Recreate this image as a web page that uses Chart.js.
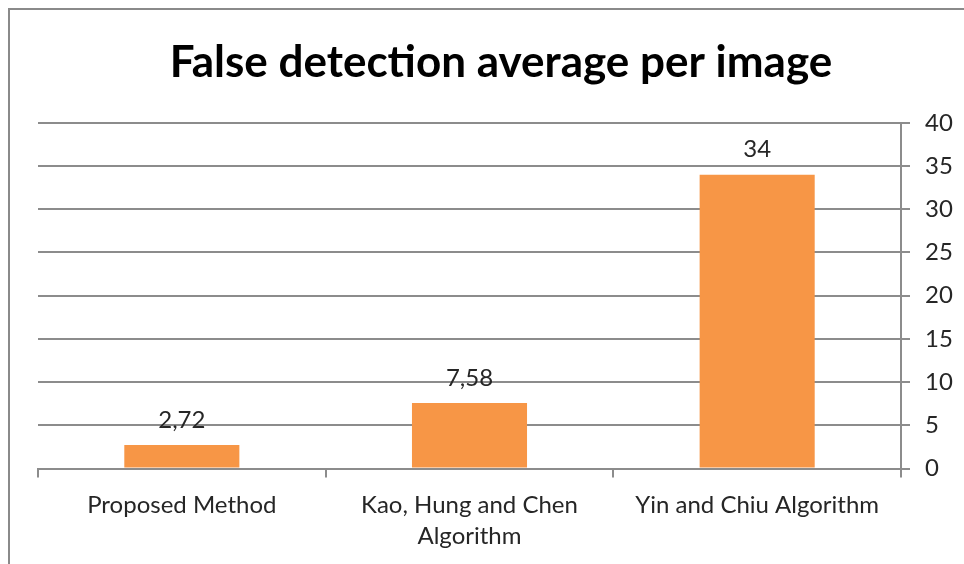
<!DOCTYPE html>
<html>
<head>
<meta charset="utf-8">
<script src="https://cdn.jsdelivr.net/npm/chart.js@4/dist/chart.umd.min.js"></script>
<style>
  html, body { margin: 0; padding: 0; background: #fff; }
  #wrap { width: 964px; height: 564px; position: relative; }
</style>
</head>
<body>
<div id="wrap"><canvas id="c" width="964" height="564"></canvas></div>
<script>
// Chart data
const chartTitle = 'False detection average per image';
const categories = [
  'Proposed Method',
  ['Kao, Hung and Chen', 'Algorithm'],
  'Yin and Chiu Algorithm'
];
const falseDetections = [2.72, 7.58, 34];
const yTicks = [0, 5, 10, 15, 20, 25, 30, 35, 40];

const FONT = 'Lato, "Open Sans", sans-serif';
const GRID = '#8c8c8c';
const BAR = '#F79646';
const TEXT = '#262626';

// Value labels above each bar, with a decimal comma
const valueLabels = {
  id: 'valueLabels',
  afterDatasetsDraw(chart) {
    const ctx = chart.ctx;
    const meta = chart.getDatasetMeta(0);
    ctx.save();
    ctx.font = '24px ' + FONT;
    ctx.fillStyle = TEXT;
    ctx.textAlign = 'center';
    ctx.textBaseline = 'middle';
    meta.data.forEach((bar, i) => {
      const txt = String(falseDetections[i]).replace('.', ',');
      ctx.fillText(txt, bar.x, bar.y - 25);
    });
    ctx.restore();
  }
};

// Gray frame on the left and top edges
const frame = {
  id: 'frame',
  afterDraw(chart) {
    const ctx = chart.ctx;
    ctx.save();
    ctx.strokeStyle = '#8a8a8a';
    ctx.lineWidth = 2;
    ctx.beginPath();
    ctx.moveTo(9, 564);
    ctx.lineTo(9, 9);
    ctx.lineTo(964, 9);
    ctx.stroke();
    ctx.restore();
  }
};

new Chart(document.getElementById('c'), {
  type: 'bar',
  data: {
    labels: categories,
    datasets: [{
      data: falseDetections,
      backgroundColor: BAR,
      borderWidth: 0,
      categoryPercentage: 0.4,
      barPercentage: 1.0
    }]
  },
  plugins: [valueLabels, frame],
  options: {
    responsive: false,
    animation: false,
    layout: { padding: { left: 38, right: 0, top: 36, bottom: 0 } },
    plugins: {
      legend: { display: false },
      tooltip: { enabled: false },
      title: {
        display: true,
        text: chartTitle,
        color: '#000',
        font: { family: FONT, size: 44, weight: 'bold' },
        padding: { top: 0, bottom: 34 }
      }
    },
    scales: {
      x: {
        grid: {
          offset: true,
          drawOnChartArea: false,
          drawTicks: true,
          tickLength: 9,
          color: GRID,
          lineWidth: 2
        },
        border: { display: true, color: GRID, width: 2 },
        ticks: {
          color: TEXT,
          font: { family: FONT, size: 24, lineHeight: 1.3 },
          padding: 12,
          maxRotation: 0,
          autoSkip: false
        }
      },
      y: {
        position: 'right',
        min: 0,
        max: 40,
        afterBuildTicks(axis) {
          axis.ticks = yTicks.map(v => ({ value: v }));
        },
        afterFit(axis) {
          axis.width = 63;
        },
        grid: {
          color: GRID,
          lineWidth: 2,
          drawTicks: true,
          tickLength: 9
        },
        border: { display: true, color: GRID, width: 2 },
        ticks: {
          color: TEXT,
          font: { family: FONT, size: 24 },
          padding: 15
        }
      }
    }
  }
});
</script>
</body>
</html>
